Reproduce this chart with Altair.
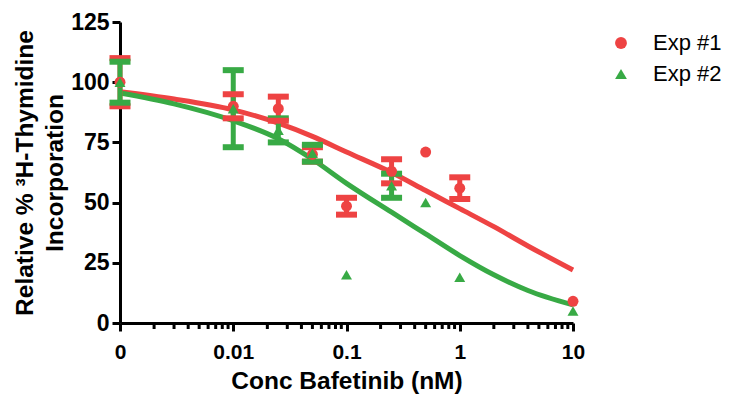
import altair as alt
import pandas as pd

# ---- data ----
conc = [0, 0.01, 0.025, 0.05, 0.1, 0.25, 0.5, 1, 10]
exp1_mean = [100, 90, 89, 70, 48.5, 63, 71, 56, 9]
exp1_err = [10, 5, 5, 3, 3.5, 5, 0, 4.5, 0]
exp2_mean = [100, 89, 80, 70.5, 20, 57, 50, 19, 5]
exp2_err = [8.5, 16, 5, 3.5, 0, 5, 0, 0, 0]

curve_conc = [0.001, 0.003, 0.01, 0.025, 0.05, 0.1, 0.25, 0.5, 1, 2, 4, 10]
curve_exp1 = [96, 93, 88.5, 83, 77.5, 71, 62.5, 55, 47.5, 40, 32, 22]
curve_exp2 = [95.5, 91, 84, 76.5, 68, 58, 46, 37, 28, 20, 13.5, 7.5]

minor_ticks = [m * 10 ** k for k in (-3, -2, -1, 0) for m in range(2, 10)]
major_ticks = [0.001, 0.01, 0.1, 1, 10]
y_ticks = [0, 25, 50, 75, 100, 125]

series = ["Exp #1", "Exp #2"]
colors = ["#EE4343", "#38AA45"]
shapes = ["circle", "triangle-up"]
ZERO_POS = 0.001  # where "0" sits on the log axis

# ---- tables ----
rows = []
for name, means, errs in [("Exp #1", exp1_mean, exp1_err), ("Exp #2", exp2_mean, exp2_err)]:
    for c, m, e in zip(conc, means, errs):
        rows.append({"exp": name, "x": c if c > 0 else ZERO_POS, "y": m,
                     "lo": m - e, "hi": m + e, "err": e})
pts = pd.DataFrame(rows)
bars = pts[pts["err"] > 0]

crows = []
for name, vals in [("Exp #1", curve_exp1), ("Exp #2", curve_exp2)]:
    for c, v in zip(curve_conc, vals):
        crows.append({"exp": name, "x": c, "y": v})
curves = pd.DataFrame(crows)
minor = pd.DataFrame({"x": minor_ticks})

FONT = "Liberation Sans"
xscale = alt.Scale(type="log", domain=[0.001, 10], nice=False)
yscale = alt.Scale(domain=[0, 125], nice=False)
cscale = alt.Scale(domain=series, range=colors)
sscale = alt.Scale(domain=series, range=shapes)

xaxis = alt.Axis(values=major_ticks,
                 labelExpr="datum.value < 0.005 ? '0' : format(datum.value, '~g')",
                 title="Conc Bafetinib (nM)", grid=False, labelFlush=False)
yaxis = alt.Axis(values=y_ticks, title=["Relative % \u00b3H-Thymidine", "Incorporation"],
                 grid=False, labelFlush=False)

leg = alt.Legend(title=None, orient="none", legendX=490, legendY=10,
                 labelFont=FONT, labelFontSize=22, labelFontWeight="normal",
                 labelColor="black", symbolSize=140, rowPadding=9, labelOffset=21,
                 padding=0, symbolStrokeWidth=0, symbolOpacity=1)

color_enc = alt.Color("exp:N", scale=cscale, legend=leg)

base_x = alt.X("x:Q", scale=xscale, axis=xaxis)
base_y = alt.Y("y:Q", scale=yscale, axis=yaxis)

minor_layer = alt.Chart(minor).mark_rule(color="black", strokeWidth=3).encode(
    x=alt.X("x:Q", scale=xscale), y=alt.value(301), y2=alt.value(307))

line_layer = alt.Chart(curves).mark_line(strokeWidth=5, interpolate="monotone").encode(
    x=base_x, y=base_y, color=color_enc, detail="exp:N")

rule_layer = alt.Chart(bars).mark_rule(strokeWidth=5).encode(
    x=alt.X("x:Q", scale=xscale), y=alt.Y("lo:Q", scale=yscale), y2="hi:Q",
    color=color_enc)
cap_hi = alt.Chart(bars).mark_tick(orient="horizontal", size=21, thickness=6, opacity=1).encode(
    x=alt.X("x:Q", scale=xscale), y=alt.Y("hi:Q", scale=yscale), color=color_enc)
cap_lo = alt.Chart(bars).mark_tick(orient="horizontal", size=21, thickness=6, opacity=1).encode(
    x=alt.X("x:Q", scale=xscale), y=alt.Y("lo:Q", scale=yscale), color=color_enc)

point_layer = alt.Chart(pts).mark_point(filled=True, opacity=1, size=120).encode(
    x=base_x, y=base_y,
    color=color_enc,
    shape=alt.Shape("exp:N", scale=sscale, legend=leg))

chart = alt.layer(
    minor_layer, line_layer, rule_layer, cap_hi, cap_lo, point_layer
).properties(
    width=453, height=301,
    autosize=alt.AutoSizeParams(type="none"),
    padding={"left": 120, "top": 22, "right": 161, "bottom": 71},
    background="white",
).configure_view(stroke=None).configure_axis(
    domainColor="black", domainWidth=3, tickColor="black", tickWidth=3, tickSize=8,
    labelFont=FONT, labelFontWeight="bold", labelColor="black",
    titleFont=FONT, titleFontSize=24.5, titleFontWeight="bold", titleColor="black",
).configure_axisX(titlePadding=7, labelPadding=10, labelFontSize=21).configure_axisY(
    titlePadding=3, titleLineHeight=30, labelPadding=3, labelFontSize=23)

chart.save("out.html", embed_options={"renderer": "svg", "actions": False})
